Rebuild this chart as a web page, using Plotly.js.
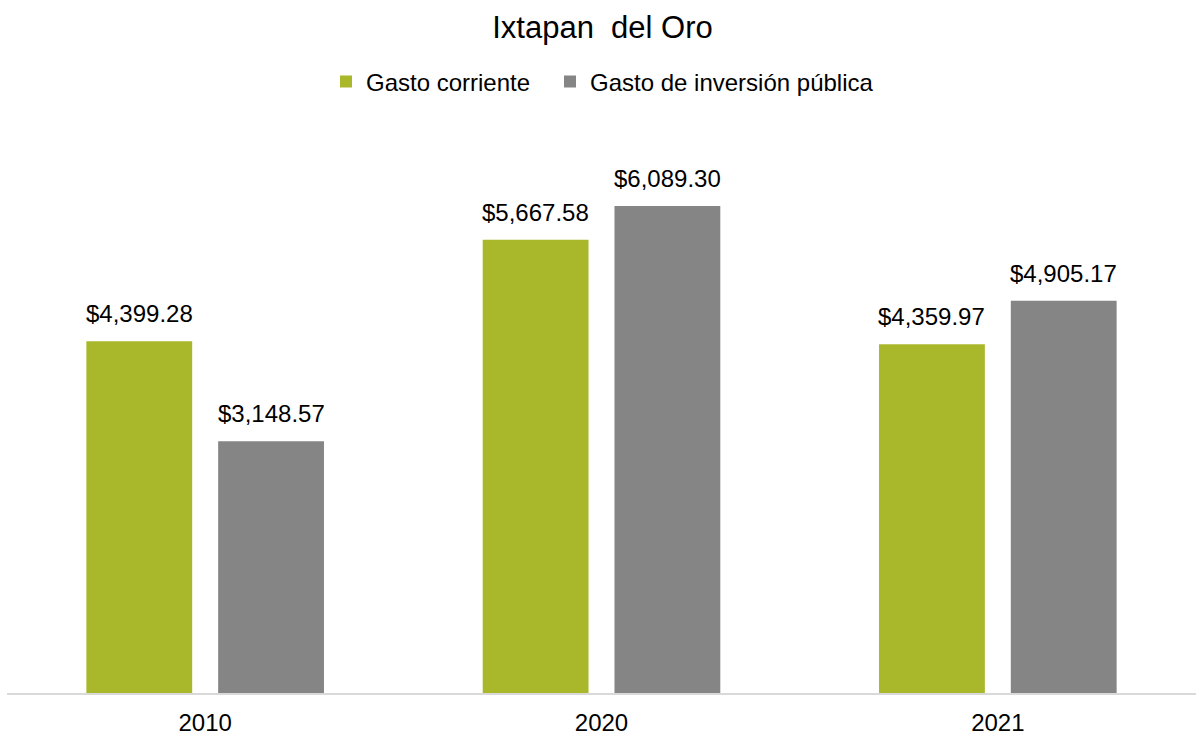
<!DOCTYPE html>
<html>
<head>
<meta charset="utf-8">
<script src="https://cdn.plot.ly/plotly-3.0.1.min.js"></script>
<style>html,body{margin:0;padding:0;background:#fff;}#chart{width:1196px;height:735px;}</style>
</head>
<body>
<div id="chart"></div>
<script>
const years = ["2010", "2020", "2021"];
const gastoCorriente = [4399.28, 5667.58, 4359.97];
const gastoInversion = [3148.57, 6089.30, 4905.17];
const seriesNames = ["Gasto corriente", "Gasto de inversión pública"];
const chartTitle = "Ixtapan&nbsp; del Oro";

const FONT = "Liberation Sans, Arial, sans-serif";
const COLORS = ["#a8b82a", "#858585"];
const fmt = v => "$" + v.toLocaleString("en-US", {minimumFractionDigits: 2, maximumFractionDigits: 2});

const W = 1196, H = 735;
const margin = {l: 7, r: 0, t: 130, b: 42};
const bargap = 0.335, bargroupgap = 0.197;
const plotW = W - margin.l - margin.r;
const slot = (plotW / years.length) * (1 - bargap) / 2;

const series = [gastoCorriente, gastoInversion];
const traces = series.map((vals, i) => ({
  type: "bar", name: seriesNames[i], x: years, y: vals,
  marker: {color: COLORS[i]}, hoverinfo: "none",
  legendwidth: i === 0 ? 179 : undefined
}));

const annotations = [];
series.forEach((vals, i) => {
  vals.forEach((v, j) => {
    annotations.push({
      x: j, y: v, xref: "x", yref: "y",
      xshift: (i - 0.5) * slot, yshift: 12,
      xanchor: "center", yanchor: "bottom", showarrow: false,
      text: fmt(v), font: {family: FONT, size: 24, color: "#000"}
    });
  });
});

const layout = {
  width: W, height: H,
  margin: margin,
  paper_bgcolor: "#fff", plot_bgcolor: "#fff",
  font: {family: FONT, color: "#000"},
  title: {text: chartTitle, font: {family: FONT, size: 31, color: "#000"},
          x: 602.5 / W, xanchor: "center", y: 1 - 27/735, yanchor: "middle", yref: "container"},
  showlegend: true,
  legend: {orientation: "h", x: (326 - margin.l) / plotW, xanchor: "left", y: 1 - 82/735, yanchor: "middle",
           yref: "container", font: {family: FONT, size: 24, color: "#000"}, traceorder: "normal"},
  barmode: "group", bargap: bargap, bargroupgap: bargroupgap,
  annotations: annotations,
  xaxis: {type: "category", range: [-0.5, years.length - 0.5], showline: true, linecolor: "#d9d9d9", linewidth: 2,
          ticks: "", showgrid: false, zeroline: false,
          tickfont: {family: FONT, size: 24, color: "#000"}, ticklabelstandoff: 7},
  yaxis: {range: [0, 7040], visible: false, showgrid: false, zeroline: false}
};

Plotly.newPlot("chart", traces, layout, {displayModeBar: false, staticPlot: true});
</script>
</body>
</html>
